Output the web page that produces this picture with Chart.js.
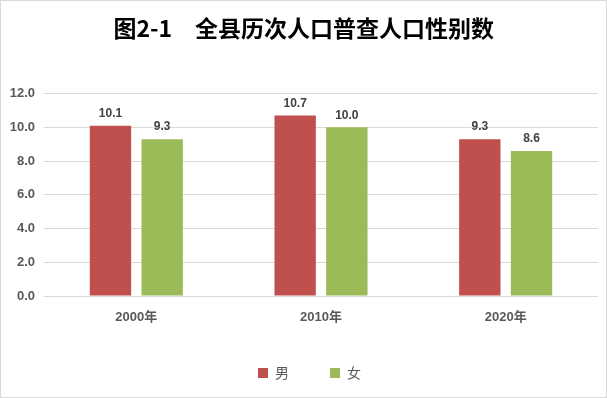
<!DOCTYPE html>
<html><head><meta charset="utf-8">
<script src="https://cdn.jsdelivr.net/npm/chart.js@4/dist/chart.umd.min.js"></script>
<style>html,body{margin:0;padding:0;background:#fff}canvas{display:block}</style>
</head><body>
<canvas id="c" width="607" height="398"></canvas>
<script>
const categories = ['2000年', '2010年', '2020年'];
const maleValues = [10.1, 10.7, 9.3];
const femaleValues = [9.3, 10.0, 8.6];
const seriesNames = ['男', '女'];
const titleText = '图2-1\u3000全县历次人口普查人口性别数\u2002';

const latin = '"Liberation Sans", "Noto Sans CJK SC", sans-serif';
const cjk = '"Noto Sans CJK SC", sans-serif';

const valueLabels = {
  id: 'valueLabels',
  afterDatasetsDraw(chart) {
    const ctx = chart.ctx;
    ctx.save();
    ctx.font = 'bold 12px ' + latin;
    ctx.fillStyle = '#404040';
    ctx.textAlign = 'center';
    ctx.textBaseline = 'bottom';
    chart.data.datasets.forEach((ds, i) => {
      chart.getDatasetMeta(i).data.forEach((el, j) => {
        ctx.fillText(ds.data[j].toFixed(1), el.x, el.y - 6);
      });
    });
    ctx.restore();
  }
};
const frame = {
  id: 'frame',
  beforeDraw(chart) {
    const ctx = chart.ctx;
    ctx.save();
    ctx.fillStyle = '#fff';
    ctx.fillRect(0, 0, chart.width, chart.height);
    ctx.strokeStyle = '#d9d9d9';
    ctx.lineWidth = 1;
    ctx.strokeRect(0.5, 0.5, chart.width - 1, chart.height - 1);
    ctx.restore();
  }
};

new Chart(document.getElementById('c'), {
  type: 'bar',
  data: {
    labels: categories,
    datasets: [
      { label: seriesNames[0], data: maleValues, backgroundColor: '#C0504D' },
      { label: seriesNames[1], data: femaleValues, backgroundColor: '#9BBB59' }
    ]
  },
  options: {
    responsive: false,
    animation: false,
    devicePixelRatio: 1,
    categoryPercentage: 0.56,
    barPercentage: 0.8,
    layout: { padding: { left: 6, right: -6, top: 0, bottom: 8 } },
    plugins: {
      title: {
        display: true,
        text: titleText,
        color: '#000',
        font: { family: cjk, size: 23, weight: 'bold' },
        padding: { top: 14, bottom: 52 }
      },
      legend: {
        position: 'bottom',
        labels: {
          color: '#595959',
          font: { family: cjk, size: 14 },
          boxWidth: 10,
          boxHeight: 10,
          padding: 27,
          generateLabels(chart) {
            const items = Chart.defaults.plugins.legend.labels.generateLabels(chart);
            items[0].text = items[0].text + '\u3000';
            return items;
          }
        }
      },
      tooltip: { enabled: false }
    },
    scales: {
      x: {
        grid: { display: false, drawTicks: false },
        border: { display: false },
        ticks: { color: '#595959', font: { family: latin, size: 13, weight: 'bold' }, padding: 14 },
        afterFit(scale) { scale.height = 43; }
      },
      y: {
        min: 0, max: 12,
        grid: { color: '#d9d9d9', drawTicks: false },
        border: { display: false },
        afterFit(scale) { scale.width = 38; },
        ticks: {
          stepSize: 2,
          color: '#595959',
          font: { family: latin, size: 13, weight: 'bold' },
          padding: 9,
          callback: v => Number(v).toFixed(1)
        }
      },
      spacer: {
        type: 'linear',
        position: 'right',
        display: true,
        grid: { display: false, drawTicks: false },
        border: { display: false },
        ticks: { display: false },
        afterFit(scale) { scale.width = 15; }
      }
    }
  },
  plugins: [frame, valueLabels]
});
</script>
</body></html>
